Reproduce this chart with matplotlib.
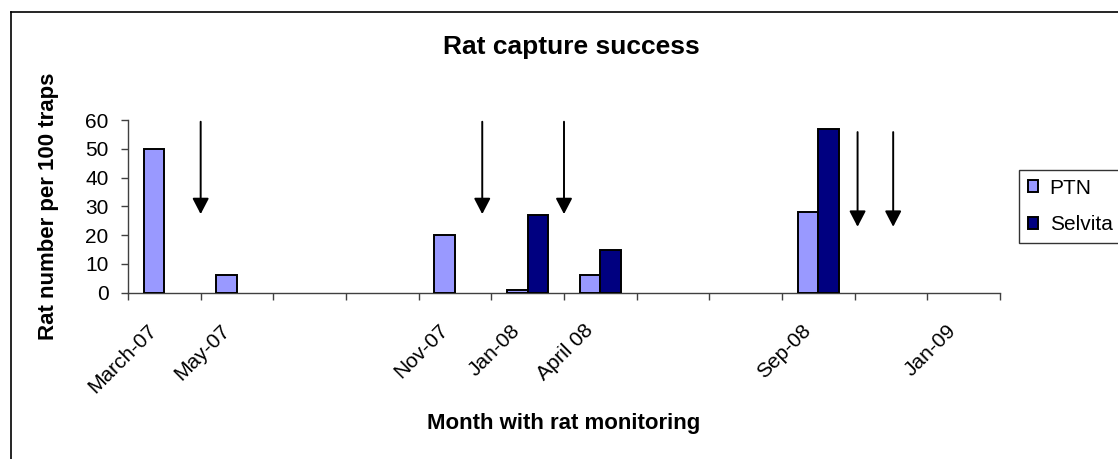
import numpy as np
import matplotlib
matplotlib.use("Agg")
import matplotlib.pyplot as plt
from matplotlib.lines import Line2D
from matplotlib.transforms import ScaledTranslation

# ---- data ----
categories = ['March-07', 'May-07', '', '', 'Nov-07', 'Jan-08', 'April 08',
              '', '', 'Sep-08', '', 'Jan-09']
ptn = [50, 6, np.nan, np.nan, 20, 1, 6, np.nan, np.nan, 28, np.nan, np.nan]
selvita = [np.nan, np.nan, np.nan, np.nan, np.nan, 27, 15, np.nan, np.nan, 57, np.nan, np.nan]
y_ticks = [0, 10, 20, 30, 40, 50, 60]
arrow_x = [0.5, 4.375, 5.5, 9.54, 10.03]
arrow_top = [59.4, 59.4, 59.4, 55.8, 55.8]
arrow_tip = [27.3, 27.3, 27.3, 22.9, 22.9]

plt.rcParams['font.family'] = ['Liberation Sans', 'DejaVu Sans']

W, H = 1118, 459
fig = plt.figure(figsize=(W / 100, H / 100), dpi=100)
ax = fig.add_axes([128 / W, 1 - 292.7 / H, 872 / W, 172.7 / H])

n = len(categories)
idx = np.arange(n)
bw = 1 / 3.5
ptn_a = np.array(ptn, dtype=float)
sel_a = np.array(selvita, dtype=float)
m1 = ~np.isnan(ptn_a)
m2 = ~np.isnan(sel_a)
ax.bar(idx[m1] - bw / 2, ptn_a[m1], width=bw, color='#9999FF',
       edgecolor='black', linewidth=1.4, label='PTN', zorder=3)
ax.bar(idx[m2] + bw / 2, sel_a[m2], width=bw, color='#000080',
       edgecolor='black', linewidth=1.4, label='Selvita', zorder=3)

ax.set_xlim(-0.5, n - 0.5)
ax.set_ylim(0, 60)
ax.set_yticks(y_ticks)
ax.tick_params(axis='y', length=5, width=1, color='#404040', pad=9,
               labelsize=15)
ax.set_xticks(idx)
ax.set_xticks(np.arange(n + 1) - 0.5, minor=True)
ax.tick_params(axis='x', which='major', length=0, pad=0, labelsize=15)
ax.tick_params(axis='x', which='minor', length=5, width=1, color='#404040')
ax.set_xticklabels(categories, rotation=45, ha='right', va='top',
                   rotation_mode='anchor')
off = ScaledTranslation(-17 / 100, -28 / 100, fig.dpi_scale_trans)
for lab in ax.get_xticklabels():
    lab.set_transform(lab.get_transform() + off)

for s in ['top', 'right']:
    ax.spines[s].set_visible(False)
for s in ['left', 'bottom']:
    ax.spines[s].set_color('#404040')
    ax.spines[s].set_linewidth(1)

for x, yt, yb in zip(arrow_x, arrow_top, arrow_tip):
    ax.annotate('', xy=(x, yb), xytext=(x, yt),
                arrowprops=dict(arrowstyle='-|>,head_length=0.48,head_width=0.25',
                                mutation_scale=20, lw=1.4, color='black',
                                shrinkA=0, shrinkB=0),
                annotation_clip=False, zorder=4)

fig.text(571 / W, 1 - 47 / H, 'Rat capture success', ha='center',
         va='center', fontsize=19, fontweight='bold')
fig.text(49 / W, 1 - 206.5 / H, 'Rat number per 100 traps', ha='center',
         va='center', rotation=90, fontsize=16, fontweight='bold')
fig.text(564 / W, 1 - 424 / H, 'Month with rat monitoring', ha='center',
         va='center', fontsize=16, fontweight='bold')

leg = ax.legend(loc='upper left', bbox_to_anchor=(1019 / W, 1 - 170 / H),
                bbox_transform=fig.transFigure, fontsize=15,
                handlelength=0.5, handleheight=0.5, handletextpad=0.55,
                borderpad=0.42, labelspacing=0.85, borderaxespad=0,
                frameon=True, fancybox=False)
leg.get_frame().set_edgecolor('black')
leg.get_frame().set_linewidth(1)

fig.add_artist(Line2D([10.7 / W, 10.7 / W], [0, 1 - 11.7 / H],
                      transform=fig.transFigure, color='black', lw=1.2))
fig.add_artist(Line2D([10.7 / W, 1], [1 - 11.7 / H, 1 - 11.7 / H],
                      transform=fig.transFigure, color='black', lw=1.2))

fig.savefig('out.png', dpi=100)
